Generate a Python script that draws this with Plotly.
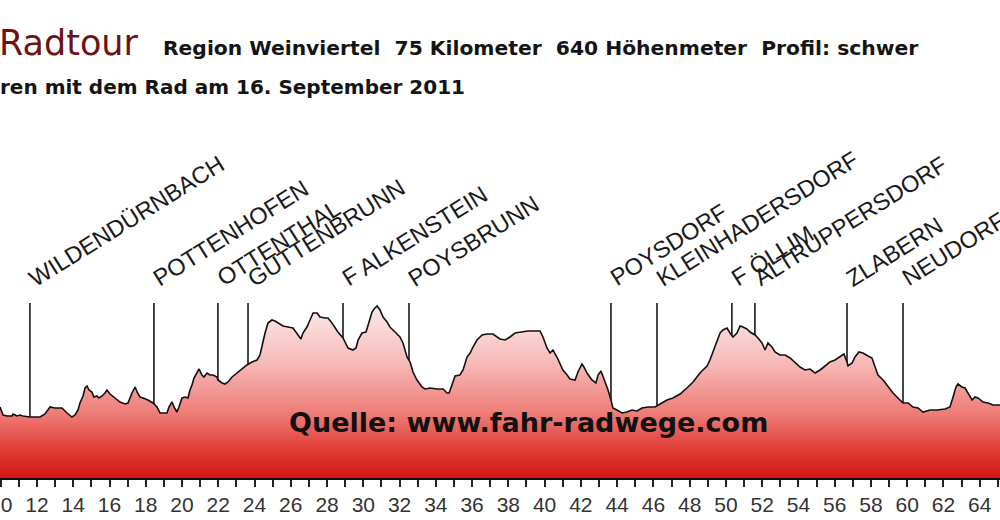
import numpy as np
import plotly.graph_objects as go

# ---------------- data ----------------
dist_km = [9.96, 10.13, 10.35, 10.62, 10.68, 10.90, 11.06, 11.23, 11.61, 12.17,
           12.44, 12.72, 12.99, 13.38, 13.66, 13.93, 14.10, 14.26, 14.37, 14.54,
           14.65, 14.76, 14.87, 15.03, 15.14, 15.31, 15.42, 15.59, 15.75, 15.86,
           16.03, 16.30, 16.58, 16.86, 17.02, 17.24, 17.41, 17.52, 17.68, 17.85,
           18.12, 18.40, 18.62, 18.79, 19.17, 19.28, 19.45, 19.56, 19.72, 19.83,
           20.00, 20.16, 20.33, 20.44, 20.55, 20.66, 20.83, 20.94, 21.10, 21.21,
           21.38, 21.54, 21.71, 21.93, 21.98, 22.21, 22.37, 22.54, 22.76, 23.03,
           23.31, 23.58, 23.86, 24.14, 24.30, 24.41, 24.58, 24.74, 24.96, 25.13,
           25.29, 25.57, 25.85, 26.12, 26.40, 26.56, 26.67, 26.89, 27.06, 27.23,
           27.45, 27.61, 27.89, 28.05, 28.27, 28.44, 28.60, 28.88, 29.16, 29.43,
           29.60, 29.71, 29.93, 30.15, 30.31, 30.48, 30.64, 30.76, 30.92, 31.09,
           31.31, 31.47, 31.75, 32.02, 32.19, 32.41, 32.58, 32.74, 32.96, 33.24,
           33.40, 33.68, 34.06, 34.40, 34.62, 34.73, 34.89, 35.06, 35.33, 35.50,
           35.72, 35.89, 36.05, 36.27, 36.55, 36.82, 37.15, 37.43, 37.54, 37.82,
           38.09, 38.37, 38.75, 39.08, 39.47, 39.75, 39.91, 40.13, 40.30, 40.46,
           40.68, 40.85, 41.01, 41.24, 41.40, 41.68, 41.84, 42.06, 42.17, 42.34,
           42.61, 42.83, 42.95, 43.11, 43.22, 43.39, 43.50, 43.66, 43.77, 43.99,
           44.27, 44.54, 44.82, 45.10, 45.37, 45.70, 46.09, 46.37, 46.75, 47.08,
           47.47, 47.85, 48.19, 48.57, 48.96, 49.12, 49.29, 49.51, 49.68, 49.84,
           50.06, 50.23, 50.39, 50.61, 50.78, 50.94, 51.16, 51.33, 51.61, 51.77,
           51.99, 52.16, 52.32, 52.54, 52.71, 52.98, 53.26, 53.54, 53.81, 54.09,
           54.36, 54.64, 54.92, 55.19, 55.47, 55.74, 56.02, 56.29, 56.51, 56.68,
           56.74, 56.96, 57.12, 57.34, 57.56, 57.84, 58.06, 58.23, 58.39, 58.67,
           58.94, 59.22, 59.49, 59.77, 60.05, 60.32, 60.60, 60.87, 61.26, 61.64,
           62.09, 62.36, 62.53, 62.69, 62.80, 63.02, 63.19, 63.35, 63.58, 63.74,
           63.91, 64.18, 64.46, 64.73, 65.12]

elev_m = [221, 213, 212, 212, 214, 212, 213, 212, 211, 211,
          214, 221, 220, 220, 215, 211, 213, 218, 225, 232,
          240, 242, 238, 236, 231, 232, 230, 232, 235, 238,
          234, 230, 226, 224, 225, 235, 241, 236, 231, 230,
          228, 225, 221, 215, 215, 221, 226, 221, 216, 221,
          230, 231, 230, 238, 243, 250, 255, 259, 253, 251,
          255, 253, 253, 251, 248, 245, 244, 246, 251, 255,
          259, 263, 266, 268, 273, 283, 295, 305, 308, 307,
          305, 302, 301, 300, 293, 289, 295, 301, 308, 315,
          315, 311, 310, 310, 305, 300, 296, 290, 280, 278,
          280, 288, 295, 296, 306, 316, 320, 322, 318, 311,
          306, 301, 296, 291, 285, 271, 266, 256, 248, 241,
          239, 240, 239, 239, 235, 235, 243, 252, 253, 258,
          271, 275, 281, 288, 293, 294, 294, 291, 289, 288,
          291, 295, 296, 297, 297, 297, 291, 280, 275, 278,
          271, 265, 258, 253, 249, 248, 256, 264, 261, 255,
          248, 245, 253, 257, 252, 245, 238, 228, 220, 218,
          215, 216, 218, 217, 220, 221, 221, 224, 228, 230,
          234, 240, 246, 255, 262, 268, 276, 288, 295, 298,
          300, 295, 291, 295, 302, 301, 299, 296, 293, 290,
          285, 278, 285, 281, 276, 273, 273, 270, 266, 261,
          258, 259, 255, 258, 262, 266, 268, 271, 274, 266,
          262, 265, 271, 276, 275, 272, 270, 261, 253, 248,
          241, 235, 230, 225, 225, 221, 220, 216, 218, 218,
          219, 221, 231, 241, 244, 241, 240, 235, 228, 231,
          230, 226, 225, 223, 223]

place_names = ["WILDENDÜRNBACH", "POTTENHOFEN", "OTTENTHAL", "GUTTENBRUNN",
               "F ALKENSTEIN", "POYSBRUNN", "POYSDORF", "KLEINHADERSDORF",
               "F ÖLLIM", "ALTRUPPERSDORF", "ZLABERN", "NEUDORF"]
place_km = [11.61, 18.45, 21.98, 23.64, 28.88, 32.52, 43.66, 46.20,
            50.33, 51.60, 56.68, 59.77]

title_main = "Radtour"
title_info = "Region Weinviertel\u00a0\u00a075 Kilometer\u00a0\u00a0640 Höhenmeter\u00a0\u00a0Profil: schwer"
title_sub = "ren mit dem Rad am 16. September 2011"
source_text = "Quelle: www.fahr-radwege.com"

# ---------------- layout constants ----------------
W, H = 1000, 520
PLOT_BOTTOM = 478          # pixel row of the distance axis
X_RANGE = [9.96, 65.12]
Y_RANGE = [150, 628]
MARKER_TOP = 325           # top end of the place marker lines (axis units)


def py(px):
    """pixel row -> paper y"""
    return (PLOT_BOTTOM - px) / PLOT_BOTTOM


fig = go.Figure()

# place marker lines
lx, ly = [], []
for k in place_km:
    lx += [k, k, None]
    ly += [float(np.interp(k, dist_km, elev_m)), MARKER_TOP, None]
fig.add_trace(go.Scatter(x=lx, y=ly, mode="lines",
                         line=dict(color="#1a1a1a", width=1.6),
                         hoverinfo="skip"))

# elevation profile with vertical gradient fill
fig.add_trace(go.Scatter(
    x=dist_km, y=elev_m, mode="lines",
    line=dict(color="#111111", width=1.6),
    fill="tozeroy",
    fillgradient=dict(
        type="vertical", start=150, stop=330,
        colorscale=[[0.0, "rgb(212,22,20)"],
                    [0.15, "rgb(224,58,52)"],
                    [0.35, "rgb(238,122,117)"],
                    [0.65, "rgb(247,188,186)"],
                    [1.0, "rgb(253,240,240)"]]),
))

ann = []
# place names
for name, k in zip(place_names, place_km):
    ann.append(dict(x=k, xref="x", y=py(294), yref="paper",
                    text=name, showarrow=False, textangle=-32,
                    xanchor="left", yanchor="bottom", xshift=-8,
                    font=dict(family="Liberation Sans, Arial", size=23.5,
                              color="#1a1a1a")))

ann.append(dict(x=0, xref="paper", y=py(42.5), yref="paper", text=title_main,
                showarrow=False, xanchor="left", yanchor="middle", xshift=-3,
                font=dict(family="DejaVu Sans", size=35, color="#6e1212")))
ann.append(dict(x=163 / W, xref="paper", y=py(48), yref="paper",
                text="<b>" + title_info + "</b>",
                showarrow=False, xanchor="left", yanchor="middle", xshift=-2,
                font=dict(family="DejaVu Sans", size=20.3, color="#141414")))
ann.append(dict(x=0, xref="paper", y=py(87), yref="paper",
                text="<b>" + title_sub + "</b>",
                showarrow=False, xanchor="left", yanchor="middle", xshift=-2,
                font=dict(family="DejaVu Sans", size=20, color="#141414")))
ann.append(dict(x=528 / W, xref="paper", y=py(422), yref="paper",
                text="<b>" + source_text + "</b>",
                showarrow=False, xanchor="center", yanchor="middle",
                font=dict(family="DejaVu Sans", size=27, color="#111111")))

fig.update_layout(
    width=W, height=H,
    margin=dict(l=0, r=0, t=0, b=H - PLOT_BOTTOM, pad=0, autoexpand=False),
    paper_bgcolor="white", plot_bgcolor="white",
    showlegend=False,
    annotations=ann,
    xaxis=dict(range=X_RANGE, showgrid=False, zeroline=False,
               automargin=False,
               tickmode="linear", tick0=0, dtick=2,
               ticks="outside", ticklen=7, tickwidth=1.5, tickcolor="#222",
               showline=True, linecolor="#111", linewidth=2,
               ticklabelstandoff=0, ticklabeloverflow="allow",
               tickfont=dict(family="Liberation Sans, Arial", size=21,
                             color="#333"),
               minor=dict(dtick=1, tick0=0, ticks="outside", ticklen=7,
                          tickwidth=1.5, tickcolor="#222")),
    yaxis=dict(range=Y_RANGE, visible=False, fixedrange=True,
               automargin=False),
)

fig.write_html(
    "out.html",
    config={"displayModeBar": False},
    post_script="document.body.style.margin='0px';"
                "document.body.style.overflow='hidden';",
)
